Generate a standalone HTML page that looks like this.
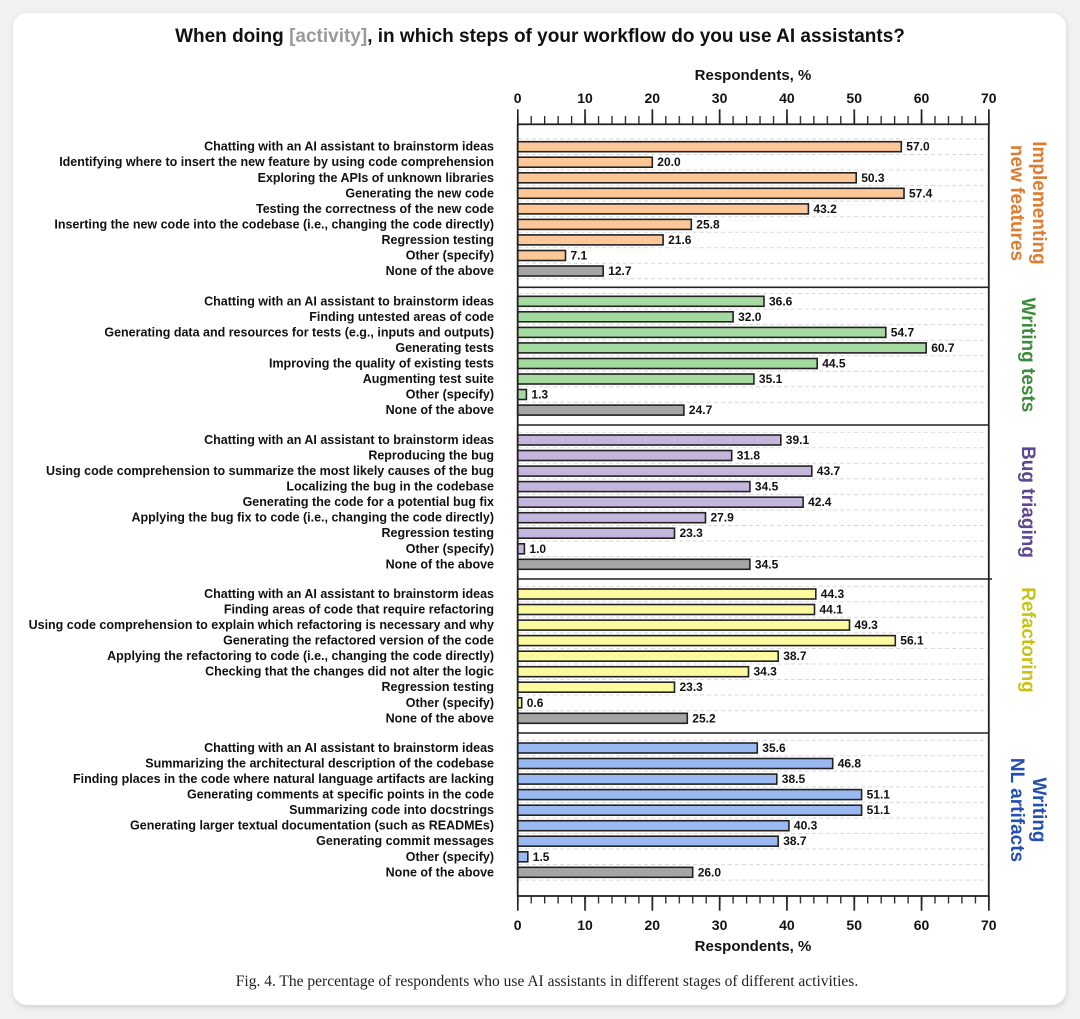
<!DOCTYPE html>
<html><head><meta charset="utf-8"><style>
html,body{margin:0;padding:0;background:#f1f1f1;}
svg{display:block;}
text{font-family:"Liberation Sans",Arial,sans-serif;}
.l{font-size:12.5px;font-weight:bold;text-anchor:end;fill:#111;}
.v{font-size:12px;font-weight:bold;fill:#111;}
.g{stroke:#d8d8d8;stroke-width:1;stroke-dasharray:4 3;}
.b{stroke:#222;stroke-width:1.6;}
.t{font-size:15px;font-weight:bold;text-anchor:middle;fill:#111;}
.s{font-size:19px;font-weight:bold;text-anchor:middle;}
text.cap{font-family:"Liberation Serif",serif;font-size:15.5px;}
</style></head><body>
<svg width="1080" height="1019" viewBox="0 0 1080 1019" xmlns="http://www.w3.org/2000/svg">
<defs>
<filter id="sh" x="-5%" y="-5%" width="110%" height="110%"><feGaussianBlur stdDeviation="3"/></filter>
<pattern id="mi" patternUnits="userSpaceOnUse" x="517.1" y="0" width="13.46" height="20"><rect x="0" y="0" width="1.3" height="20" fill="#222"/></pattern>
<pattern id="ma" patternUnits="userSpaceOnUse" x="516.9" y="0" width="67.3" height="20"><rect x="0" y="0" width="1.7" height="20" fill="#222"/></pattern>
</defs>
<rect x="14" y="15" width="1052" height="992" rx="14" fill="#ccc" filter="url(#sh)"/>
<rect x="13" y="13" width="1053" height="992" rx="14" fill="#fff"/>
<text x="540" y="42" font-size="19" font-weight="bold" text-anchor="middle" fill="#111">When doing <tspan fill="#9a9a9a">[activity]</tspan>, in which steps of your workflow do you use AI assistants?</text>

<!-- axes -->
<text class="t" x="753" y="80">Respondents, %</text>
<text class="t" x="753" y="951">Respondents, %</text>
<g font-size="14" font-weight="bold" text-anchor="middle" fill="#111">
<text x="517.7" y="103">0</text><text x="585" y="103">10</text><text x="652.3" y="103">20</text><text x="719.6" y="103">30</text><text x="786.9" y="103">40</text><text x="854.2" y="103">50</text><text x="921.5" y="103">60</text><text x="988.8" y="103">70</text>
<text x="517.7" y="930">0</text><text x="585" y="930">10</text><text x="652.3" y="930">20</text><text x="719.6" y="930">30</text><text x="786.9" y="930">40</text><text x="854.2" y="930">50</text><text x="921.5" y="930">60</text><text x="988.8" y="930">70</text>
</g>
<rect x="517" y="116" width="473" height="8.5" fill="url(#mi)"/>
<rect x="517" y="109.3" width="473" height="15" fill="url(#ma)"/>
<rect x="517" y="896" width="473" height="7.5" fill="url(#mi)"/>
<rect x="517" y="896" width="473" height="14.7" fill="url(#ma)"/>

<!-- section separators -->
<g stroke="#222" stroke-width="1.6">
<line x1="517.7" y1="287.3" x2="988.8" y2="287.3"/>
<line x1="517.7" y1="425" x2="988.8" y2="425"/>
<line x1="517.7" y1="579" x2="992" y2="579"/>
<line x1="517.7" y1="733" x2="988.8" y2="733"/>
</g>

<!-- Section 1 -->
<g transform="translate(0,146.7)"><line class="g" x1="518" x2="988" y1="-7.8" y2="-7.8"/><line class="g" x1="518" x2="988" y1="7.8" y2="7.8"/><text class="l" x="494" y="4">Chatting with an AI assistant to brainstorm ideas</text><rect class="b" x="517.7" y="-5" width="383.6" height="10" fill="#fdc797"/><text class="v" x="906.3" y="4">57.0</text></g>
<g transform="translate(0,162.2)"><line class="g" x1="518" x2="988" y1="7.8" y2="7.8"/><text class="l" x="494" y="4">Identifying where to insert the new feature by using code comprehension</text><rect class="b" x="517.7" y="-5" width="134.6" height="10" fill="#fdc797"/><text class="v" x="657.3" y="4">20.0</text></g>
<g transform="translate(0,177.8)"><line class="g" x1="518" x2="988" y1="7.8" y2="7.8"/><text class="l" x="494" y="4">Exploring the APIs of unknown libraries</text><rect class="b" x="517.7" y="-5" width="338.5" height="10" fill="#fdc797"/><text class="v" x="861.2" y="4">50.3</text></g>
<g transform="translate(0,193.3)"><line class="g" x1="518" x2="988" y1="7.8" y2="7.8"/><text class="l" x="494" y="4">Generating the new code</text><rect class="b" x="517.7" y="-5" width="386.3" height="10" fill="#fdc797"/><text class="v" x="909" y="4">57.4</text></g>
<g transform="translate(0,208.9)"><line class="g" x1="518" x2="988" y1="7.8" y2="7.8"/><text class="l" x="494" y="4">Testing the correctness of the new code</text><rect class="b" x="517.7" y="-5" width="290.7" height="10" fill="#fdc797"/><text class="v" x="813.4" y="4">43.2</text></g>
<g transform="translate(0,224.4)"><line class="g" x1="518" x2="988" y1="7.8" y2="7.8"/><text class="l" x="494" y="4">Inserting the new code into the codebase (i.e., changing the code directly)</text><rect class="b" x="517.7" y="-5" width="173.6" height="10" fill="#fdc797"/><text class="v" x="696.3" y="4">25.8</text></g>
<g transform="translate(0,239.9)"><line class="g" x1="518" x2="988" y1="7.8" y2="7.8"/><text class="l" x="494" y="4">Regression testing</text><rect class="b" x="517.7" y="-5" width="145.4" height="10" fill="#fdc797"/><text class="v" x="668.1" y="4">21.6</text></g>
<g transform="translate(0,255.5)"><line class="g" x1="518" x2="988" y1="7.8" y2="7.8"/><text class="l" x="494" y="4">Other (specify)</text><rect class="b" x="517.7" y="-5" width="47.8" height="10" fill="#fdc797"/><text class="v" x="570.5" y="4">7.1</text></g>
<g transform="translate(0,271.0)"><line class="g" x1="518" x2="988" y1="7.8" y2="7.8"/><text class="l" x="494" y="4">None of the above</text><rect class="b" x="517.7" y="-5" width="85.5" height="10" fill="#a5a5a5"/><text class="v" x="608.2" y="4">12.7</text></g>

<!-- Section 2 -->
<g transform="translate(0,301.3)"><line class="g" x1="518" x2="988" y1="-7.8" y2="-7.8"/><line class="g" x1="518" x2="988" y1="7.8" y2="7.8"/><text class="l" x="494" y="4">Chatting with an AI assistant to brainstorm ideas</text><rect class="b" x="517.7" y="-5" width="246.3" height="10" fill="#a4d99f"/><text class="v" x="769" y="4">36.6</text></g>
<g transform="translate(0,316.8)"><line class="g" x1="518" x2="988" y1="7.8" y2="7.8"/><text class="l" x="494" y="4">Finding untested areas of code</text><rect class="b" x="517.7" y="-5" width="215.4" height="10" fill="#a4d99f"/><text class="v" x="738.1" y="4">32.0</text></g>
<g transform="translate(0,332.4)"><line class="g" x1="518" x2="988" y1="7.8" y2="7.8"/><text class="l" x="494" y="4">Generating data and resources for tests (e.g., inputs and outputs)</text><rect class="b" x="517.7" y="-5" width="368.1" height="10" fill="#a4d99f"/><text class="v" x="890.8" y="4">54.7</text></g>
<g transform="translate(0,347.9)"><line class="g" x1="518" x2="988" y1="7.8" y2="7.8"/><text class="l" x="494" y="4">Generating tests</text><rect class="b" x="517.7" y="-5" width="408.5" height="10" fill="#a4d99f"/><text class="v" x="931.2" y="4">60.7</text></g>
<g transform="translate(0,363.5)"><line class="g" x1="518" x2="988" y1="7.8" y2="7.8"/><text class="l" x="494" y="4">Improving the quality of existing tests</text><rect class="b" x="517.7" y="-5" width="299.5" height="10" fill="#a4d99f"/><text class="v" x="822.2" y="4">44.5</text></g>
<g transform="translate(0,379.0)"><line class="g" x1="518" x2="988" y1="7.8" y2="7.8"/><text class="l" x="494" y="4">Augmenting test suite</text><rect class="b" x="517.7" y="-5" width="236.2" height="10" fill="#a4d99f"/><text class="v" x="758.9" y="4">35.1</text></g>
<g transform="translate(0,394.5)"><line class="g" x1="518" x2="988" y1="7.8" y2="7.8"/><text class="l" x="494" y="4">Other (specify)</text><rect class="b" x="517.7" y="-5" width="8.7" height="10" fill="#a4d99f"/><text class="v" x="531.4" y="4">1.3</text></g>
<g transform="translate(0,410.1)"><text class="l" x="494" y="4">None of the above</text><rect class="b" x="517.7" y="-5" width="166.2" height="10" fill="#a5a5a5"/><text class="v" x="688.9" y="4">24.7</text></g>

<!-- Section 3 -->
<g transform="translate(0,440)"><line class="g" x1="518" x2="988" y1="-7.8" y2="-7.8"/><line class="g" x1="518" x2="988" y1="7.8" y2="7.8"/><text class="l" x="494" y="4">Chatting with an AI assistant to brainstorm ideas</text><rect class="b" x="517.7" y="-5" width="263.1" height="10" fill="#c3b5dd"/><text class="v" x="785.8" y="4">39.1</text></g>
<g transform="translate(0,455.5)"><line class="g" x1="518" x2="988" y1="7.8" y2="7.8"/><text class="l" x="494" y="4">Reproducing the bug</text><rect class="b" x="517.7" y="-5" width="214.0" height="10" fill="#c3b5dd"/><text class="v" x="736.7" y="4">31.8</text></g>
<g transform="translate(0,471.1)"><line class="g" x1="518" x2="988" y1="7.8" y2="7.8"/><text class="l" x="494" y="4">Using code comprehension to summarize the most likely causes of the bug</text><rect class="b" x="517.7" y="-5" width="294.1" height="10" fill="#c3b5dd"/><text class="v" x="816.8" y="4">43.7</text></g>
<g transform="translate(0,486.6)"><line class="g" x1="518" x2="988" y1="7.8" y2="7.8"/><text class="l" x="494" y="4">Localizing the bug in the codebase</text><rect class="b" x="517.7" y="-5" width="232.2" height="10" fill="#c3b5dd"/><text class="v" x="754.9" y="4">34.5</text></g>
<g transform="translate(0,502.2)"><line class="g" x1="518" x2="988" y1="7.8" y2="7.8"/><text class="l" x="494" y="4">Generating the code for a potential bug fix</text><rect class="b" x="517.7" y="-5" width="285.4" height="10" fill="#c3b5dd"/><text class="v" x="808.1" y="4">42.4</text></g>
<g transform="translate(0,517.7)"><line class="g" x1="518" x2="988" y1="7.8" y2="7.8"/><text class="l" x="494" y="4">Applying the bug fix to code (i.e., changing the code directly)</text><rect class="b" x="517.7" y="-5" width="187.8" height="10" fill="#c3b5dd"/><text class="v" x="710.5" y="4">27.9</text></g>
<g transform="translate(0,533.2)"><line class="g" x1="518" x2="988" y1="7.8" y2="7.8"/><text class="l" x="494" y="4">Regression testing</text><rect class="b" x="517.7" y="-5" width="156.8" height="10" fill="#c3b5dd"/><text class="v" x="679.5" y="4">23.3</text></g>
<g transform="translate(0,548.8)"><line class="g" x1="518" x2="988" y1="7.8" y2="7.8"/><text class="l" x="494" y="4">Other (specify)</text><rect class="b" x="517.7" y="-5" width="6.7" height="10" fill="#c3b5dd"/><text class="v" x="529.4" y="4">1.0</text></g>
<g transform="translate(0,564.3)"><text class="l" x="494" y="4">None of the above</text><rect class="b" x="517.7" y="-5" width="232.2" height="10" fill="#a5a5a5"/><text class="v" x="754.9" y="4">34.5</text></g>

<!-- Section 4 -->
<g transform="translate(0,594)"><line class="g" x1="518" x2="988" y1="-7.8" y2="-7.8"/><line class="g" x1="518" x2="988" y1="7.8" y2="7.8"/><text class="l" x="494" y="4">Chatting with an AI assistant to brainstorm ideas</text><rect class="b" x="517.7" y="-5" width="298.1" height="10" fill="#fcfa9e"/><text class="v" x="820.8" y="4">44.3</text></g>
<g transform="translate(0,609.5)"><line class="g" x1="518" x2="988" y1="7.8" y2="7.8"/><text class="l" x="494" y="4">Finding areas of code that require refactoring</text><rect class="b" x="517.7" y="-5" width="296.8" height="10" fill="#fcfa9e"/><text class="v" x="819.5" y="4">44.1</text></g>
<g transform="translate(0,625.1)"><line class="g" x1="518" x2="988" y1="7.8" y2="7.8"/><text class="l" x="494" y="4">Using code comprehension to explain which refactoring is necessary and why</text><rect class="b" x="517.7" y="-5" width="331.8" height="10" fill="#fcfa9e"/><text class="v" x="854.5" y="4">49.3</text></g>
<g transform="translate(0,640.6)"><line class="g" x1="518" x2="988" y1="7.8" y2="7.8"/><text class="l" x="494" y="4">Generating the refactored version of the code</text><rect class="b" x="517.7" y="-5" width="377.6" height="10" fill="#fcfa9e"/><text class="v" x="900.3" y="4">56.1</text></g>
<g transform="translate(0,656.2)"><line class="g" x1="518" x2="988" y1="7.8" y2="7.8"/><text class="l" x="494" y="4">Applying the refactoring to code (i.e., changing the code directly)</text><rect class="b" x="517.7" y="-5" width="260.5" height="10" fill="#fcfa9e"/><text class="v" x="783.2" y="4">38.7</text></g>
<g transform="translate(0,671.7)"><line class="g" x1="518" x2="988" y1="7.8" y2="7.8"/><text class="l" x="494" y="4">Checking that the changes did not alter the logic</text><rect class="b" x="517.7" y="-5" width="230.8" height="10" fill="#fcfa9e"/><text class="v" x="753.5" y="4">34.3</text></g>
<g transform="translate(0,687.2)"><line class="g" x1="518" x2="988" y1="7.8" y2="7.8"/><text class="l" x="494" y="4">Regression testing</text><rect class="b" x="517.7" y="-5" width="156.8" height="10" fill="#fcfa9e"/><text class="v" x="679.5" y="4">23.3</text></g>
<g transform="translate(0,702.8)"><line class="g" x1="518" x2="988" y1="7.8" y2="7.8"/><text class="l" x="494" y="4">Other (specify)</text><rect class="b" x="517.7" y="-5" width="4.0" height="10" fill="#fcfa9e"/><text class="v" x="526.7" y="4">0.6</text></g>
<g transform="translate(0,718.3)"><text class="l" x="494" y="4">None of the above</text><rect class="b" x="517.7" y="-5" width="169.6" height="10" fill="#a5a5a5"/><text class="v" x="692.3" y="4">25.2</text></g>

<!-- Section 5 -->
<g transform="translate(0,748)"><line class="g" x1="518" x2="988" y1="-7.8" y2="-7.8"/><line class="g" x1="518" x2="988" y1="7.8" y2="7.8"/><text class="l" x="494" y="4">Chatting with an AI assistant to brainstorm ideas</text><rect class="b" x="517.7" y="-5" width="239.6" height="10" fill="#9bb9f1"/><text class="v" x="762.3" y="4">35.6</text></g>
<g transform="translate(0,763.5)"><line class="g" x1="518" x2="988" y1="7.8" y2="7.8"/><text class="l" x="494" y="4">Summarizing the architectural description of the codebase</text><rect class="b" x="517.7" y="-5" width="315.0" height="10" fill="#9bb9f1"/><text class="v" x="837.7" y="4">46.8</text></g>
<g transform="translate(0,779.1)"><line class="g" x1="518" x2="988" y1="7.8" y2="7.8"/><text class="l" x="494" y="4">Finding places in the code where natural language artifacts are lacking</text><rect class="b" x="517.7" y="-5" width="259.1" height="10" fill="#9bb9f1"/><text class="v" x="781.8" y="4">38.5</text></g>
<g transform="translate(0,794.6)"><line class="g" x1="518" x2="988" y1="7.8" y2="7.8"/><text class="l" x="494" y="4">Generating comments at specific points in the code</text><rect class="b" x="517.7" y="-5" width="343.9" height="10" fill="#9bb9f1"/><text class="v" x="866.6" y="4">51.1</text></g>
<g transform="translate(0,810.2)"><line class="g" x1="518" x2="988" y1="7.8" y2="7.8"/><text class="l" x="494" y="4">Summarizing code into docstrings</text><rect class="b" x="517.7" y="-5" width="343.9" height="10" fill="#9bb9f1"/><text class="v" x="866.6" y="4">51.1</text></g>
<g transform="translate(0,825.7)"><line class="g" x1="518" x2="988" y1="7.8" y2="7.8"/><text class="l" x="494" y="4">Generating larger textual documentation (such as READMEs)</text><rect class="b" x="517.7" y="-5" width="271.2" height="10" fill="#9bb9f1"/><text class="v" x="793.9" y="4">40.3</text></g>
<g transform="translate(0,841.2)"><line class="g" x1="518" x2="988" y1="7.8" y2="7.8"/><text class="l" x="494" y="4">Generating commit messages</text><rect class="b" x="517.7" y="-5" width="260.5" height="10" fill="#9bb9f1"/><text class="v" x="783.2" y="4">38.7</text></g>
<g transform="translate(0,856.8)"><line class="g" x1="518" x2="988" y1="7.8" y2="7.8"/><text class="l" x="494" y="4">Other (specify)</text><rect class="b" x="517.7" y="-5" width="10.1" height="10" fill="#9bb9f1"/><text class="v" x="532.8" y="4">1.5</text></g>
<g transform="translate(0,872.3)"><line class="g" x1="518" x2="988" y1="7.8" y2="7.8"/><text class="l" x="494" y="4">None of the above</text><rect class="b" x="517.7" y="-5" width="175.0" height="10" fill="#a5a5a5"/><text class="v" x="697.7" y="4">26.0</text></g>

<!-- frame -->
<rect x="517.7" y="124.3" width="471.1" height="771.7" fill="none" stroke="#222" stroke-width="1.8"/>

<!-- section labels -->
<text class="s" fill="#dd7d32" transform="translate(1033,203) rotate(90)">Implementing</text>
<text class="s" fill="#dd7d32" transform="translate(1011,203) rotate(90)">new features</text>
<text class="s" fill="#3d8b3d" transform="translate(1022,355) rotate(90)">Writing tests</text>
<text class="s" fill="#5e4791" transform="translate(1022,502) rotate(90)">Bug triaging</text>
<text class="s" fill="#c9c216" transform="translate(1022,640) rotate(90)">Refactoring</text>
<text class="s" fill="#2350b0" transform="translate(1033,810) rotate(90)">Writing</text>
<text class="s" fill="#2350b0" transform="translate(1011,810) rotate(90)">NL artifacts</text>

<text class="cap" x="547" y="986" text-anchor="middle" fill="#222">Fig. 4.  The percentage of respondents who use AI assistants in different stages of different activities.</text>
</svg>
</body></html>
